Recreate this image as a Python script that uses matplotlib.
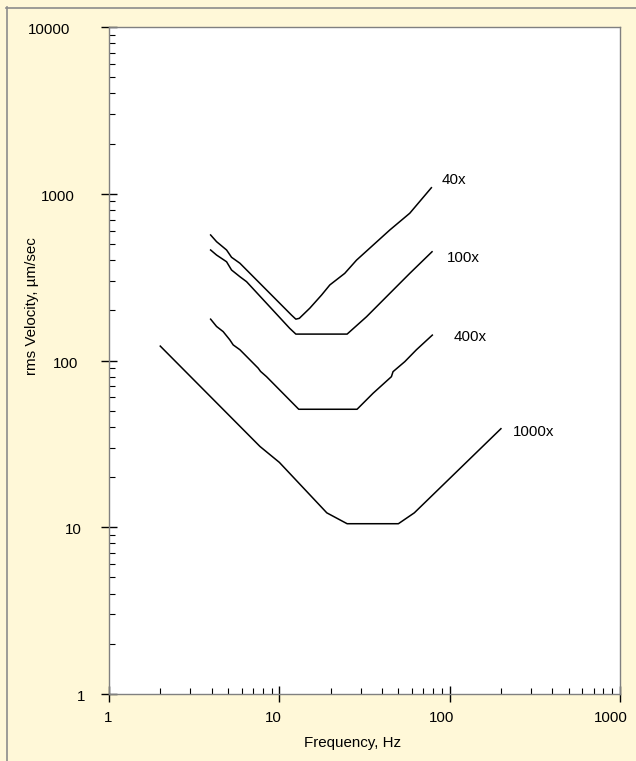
import matplotlib
matplotlib.use("Agg")
import matplotlib.pyplot as plt
from matplotlib.lines import Line2D
from matplotlib.ticker import LogLocator, NullFormatter

plt.rcParams['font.family'] = ['Liberation Sans', 'DejaVu Sans']

# ---- data (frequency Hz, rms velocity um/sec) ----
f_40x = [3.95, 4.28, 4.9, 5.24, 5.87, 11.8, 12.5, 13.1, 15.1, 17.7, 19.8, 24.2, 28.4, 44.5, 58.3, 78.1]
v_40x = [566, 516, 460, 416, 383, 187, 177, 179, 206, 247, 284, 333, 400, 606, 764, 1087]

f_100x = [3.95, 4.28, 4.9, 5.24, 5.87, 6.42, 11.5, 12.5, 25.0, 32.5, 48.7, 58.3, 78.8]
v_100x = [460, 429, 391, 349, 318, 297, 156, 144, 144, 183, 277, 333, 449]

f_400x = [3.95, 4.28, 4.68, 5.12, 5.36, 5.87, 7.51, 7.76, 8.41, 13.0, 28.6, 35.5, 45.5, 46.5, 54.5, 63.8, 79.1]
v_400x = [177, 160, 149, 133, 124, 116, 90, 86, 80, 51, 51, 63.6, 80, 85.7, 98.4, 116, 142]

f_1000x = [2.0, 7.7, 10, 19, 25, 50, 62, 200]
v_1000x = [122, 30.5, 24.5, 12.2, 10.5, 10.5, 12.2, 39]

curve_labels = ['40x', '100x', '400x', '1000x']
label_pos = [(89.8, 1208), (96, 412), (105.5, 138), (234, 37.3)]

x_ticks = [1, 10, 100, 1000]
x_ticklabels = ['1', '10', '100', '1000']
y_ticks = [1, 10, 100, 1000, 10000]
y_ticklabels = ['1', '10', '100', '1000', '10000']

bg = '#FFF8D8'
W, H = 636, 761

fig = plt.figure(figsize=(W / 100, H / 100), dpi=100, facecolor=bg)
ax = fig.add_axes([109 / W, 1 - 694 / H, (620 - 109) / W, (694 - 27) / H])
ax.set_facecolor('white')

for fx, vy in [(f_40x, v_40x), (f_100x, v_100x), (f_400x, v_400x), (f_1000x, v_1000x)]:
    ax.plot(fx, vy, color='black', lw=1.1, solid_joinstyle='round')

ax.set_xscale('log')
ax.set_yscale('log')
ax.set_xlim(1, 1000)
ax.set_ylim(1, 10000)

ax.xaxis.set_major_locator(LogLocator(base=10))
ax.yaxis.set_major_locator(LogLocator(base=10))
ax.xaxis.set_minor_locator(LogLocator(base=10, subs=range(2, 10)))
ax.yaxis.set_minor_locator(LogLocator(base=10, subs=range(2, 10)))
ax.xaxis.set_minor_formatter(NullFormatter())
ax.yaxis.set_minor_formatter(NullFormatter())
ax.tick_params(which='major', direction='inout', length=11, width=1, color='black',
               labelbottom=False, labelleft=False)
ax.tick_params(which='minor', direction='in', length=4.3, width=0.8, color='black')

for s in ax.spines.values():
    s.set_color('#808080')
    s.set_linewidth(1)

# curve labels
for txt, (lx, ly) in zip(curve_labels, label_pos):
    ax.text(lx, ly, txt, fontsize=10.9, ha='left', va='center')

# tick labels, placed as in the reference
xt = ax.get_xaxis_transform()
x_lab_shift = [-1, -6, -8, -9]
for val, lab, dx in zip(x_ticks, x_ticklabels, x_lab_shift):
    ax.annotate(lab, (val, 0), xycoords=xt, xytext=(dx * 0.72, -24 * 0.72),
                textcoords='offset points', ha='center', va='center', fontsize=10.9)

yt = ax.get_yaxis_transform()
y_lab_right = [85, 82, 78, 75, 70]
for val, lab, rx in zip(y_ticks, y_ticklabels, y_lab_right):
    ax.annotate(lab, (0, val), xycoords=yt, xytext=((rx - 109) * 0.72, -3 * 0.72),
                textcoords='offset points', ha='right', va='center', fontsize=10.9)

fig.text(353 / W, 1 - 743 / H, 'Frequency, Hz', ha='center', va='center', fontsize=10.9)
fig.text(32 / W, 1 - 306 / H, 'rms Velocity, µm/sec', ha='center', va='center',
         rotation=90, fontsize=10.9)

# outer frame (left and top edges visible)
fig.add_artist(Line2D([6.5 / W, 6.5 / W], [0, 1 - 7 / H], transform=fig.transFigure,
                      color='#8c8c8c', lw=1.2))
fig.add_artist(Line2D([6 / W, 1], [1 - 7.5 / H, 1 - 7.5 / H], transform=fig.transFigure,
                      color='#8c8c8c', lw=1.2))

fig.savefig('out.png', dpi=100, facecolor=bg)
